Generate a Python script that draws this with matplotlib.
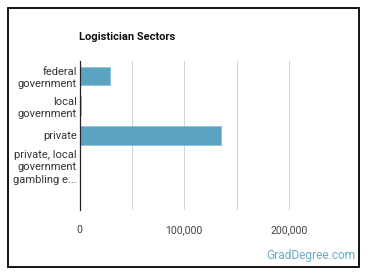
import matplotlib
matplotlib.use("Agg")
import matplotlib.pyplot as plt
from matplotlib.patches import Rectangle

plt.rcParams["font.family"] = ["Roboto", "DejaVu Sans"]

categories = ["federal\ngovernment", "local\ngovernment", "private",
              "private, local\ngovernment\ngambling e...", ""]
values = [28700, 1600, 135300, 0, 900]
xticks = [0, 100000, 200000]
xtick_labels = ["0", "100,000", "200,000"]
title = "Logistician Sectors"

W, H = 370, 278
fig = plt.figure(figsize=(W / 100, H / 100), dpi=100)
fig.patch.set_facecolor("white")
fig.patches.append(Rectangle((8 / W, 1 - 267 / H), 351 / W, 259 / H,
                             transform=fig.transFigure, fill=False,
                             edgecolor="black", linewidth=1.3))

x0, x1 = 79.5, 337
y0, y1 = 61, 210
ax = fig.add_axes([x0 / W, 1 - y1 / H, (x1 - x0) / W, (y1 - y0) / H])
ypos = list(range(len(categories)))
ax.barh(ypos, values, height=0.63, color="#5ba3c0", edgecolor="#8cc3d6",
        linewidth=0.6, zorder=2)
ax.set_ylim(len(categories) - 0.5, -0.5)
ax.set_xlim(0, 246000)
ax.set_yticks(ypos)
ax.set_yticklabels(categories, fontsize=8, color="#333333", linespacing=1.3)
ax.set_xticks(xticks)
ax.set_xticklabels(xtick_labels, fontsize=7.6, color="#444444")
for g in [50000, 100000, 150000, 200000]:
    ax.axvline(g, color="#cccccc", linewidth=0.6, zorder=0)
ax.tick_params(axis="y", length=0, pad=2)
ax.tick_params(axis="x", length=0, pad=11)
for s in ["top", "right", "bottom"]:
    ax.spines[s].set_visible(False)
ax.spines["left"].set_color("#222222")
ax.spines["left"].set_linewidth(0.9)
ax.spines["left"].set_zorder(3)

fig.text(79 / W, 1 - 37 / H, title, fontsize=8, fontweight="bold",
         color="#111111", ha="left", va="center")
fig.text(355 / W, 1 - 255 / H, "GradDegree.com", fontsize=8.6,
         color="#6aaac6", ha="right", va="center")

fig.savefig("out.png", dpi=100)
